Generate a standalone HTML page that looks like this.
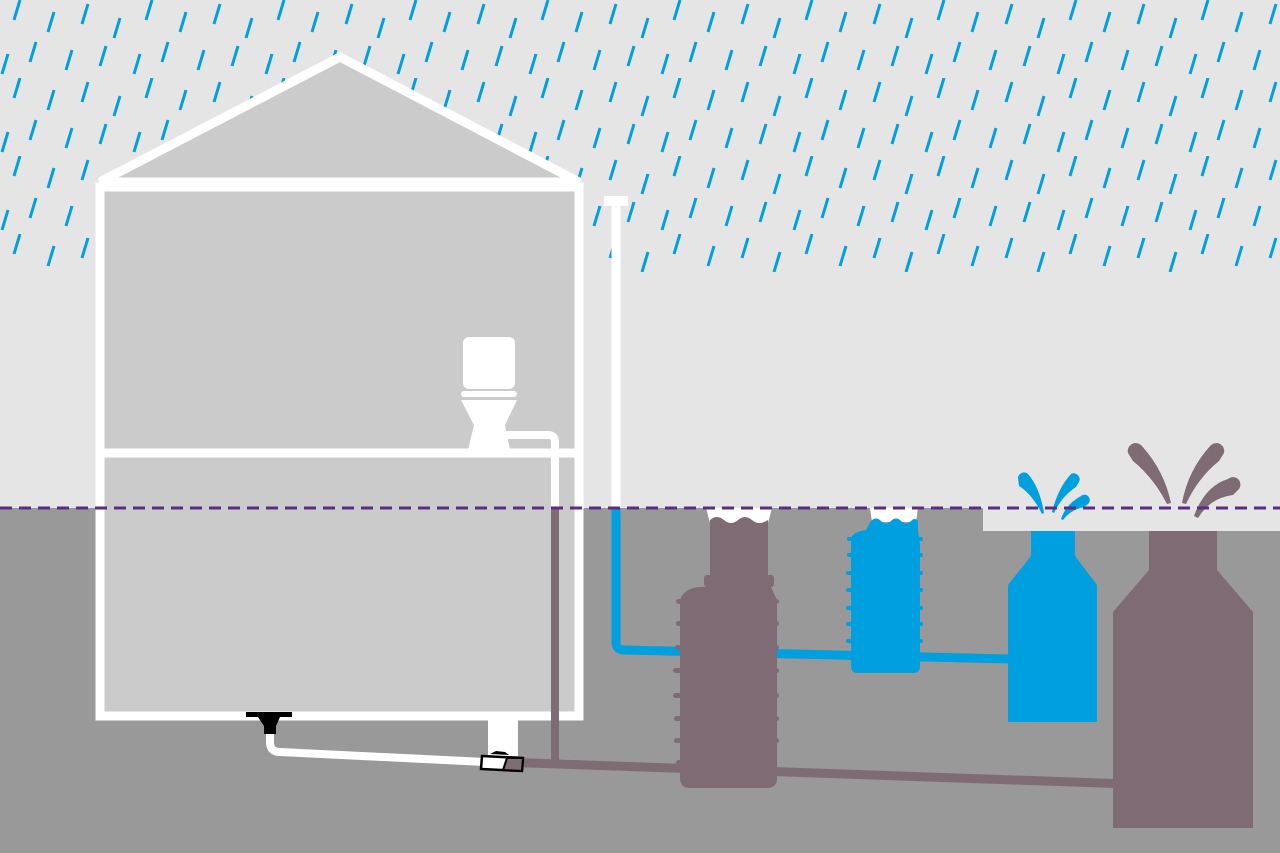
<!DOCTYPE html>
<html><head><meta charset="utf-8"><style>html,body{margin:0;padding:0;background:#e5e5e5}svg{display:block}</style></head>
<body>
<svg width="1280" height="853" viewBox="0 0 1280 853" xmlns="http://www.w3.org/2000/svg">
<defs>
<pattern id="rain" x="0" y="0" width="132" height="78" patternUnits="userSpaceOnUse">
<g stroke="#009fdf" stroke-width="3" stroke-linecap="butt">
<line x1="20" y1="0" x2="14" y2="20"/>
<line x1="54" y1="12" x2="48" y2="32"/>
<line x1="88" y1="4" x2="82" y2="24"/>
<line x1="120" y1="18" x2="114" y2="38"/>
<line x1="36" y1="42" x2="30" y2="62"/>
<line x1="72" y1="50" x2="66" y2="70"/>
<line x1="106" y1="46" x2="100" y2="66"/>
<line x1="8" y1="54" x2="2" y2="74"/>
</g>
</pattern>
</defs>
<rect width="1280" height="853" fill="#e5e5e5"/>
<rect x="0" y="0" width="1280" height="272" fill="url(#rain)"/>
<rect x="0" y="508" width="1280" height="345" fill="#999"/>
<rect x="983" y="508" width="297" height="23" fill="#e5e5e5"/>
<polygon points="100,182 340,57 579,182" fill="#cbcbcb" stroke="#fff" stroke-width="9" stroke-linejoin="miter"/>
<rect x="100" y="187" width="479" height="529" fill="#cbcbcb" stroke="#fff" stroke-width="9"/>
<line x1="100" y1="453" x2="579" y2="453" stroke="#fff" stroke-width="9"/>
<rect x="463" y="337" width="52" height="52" rx="6" fill="#fff"/>
<rect x="461" y="391" width="56" height="6" rx="3" fill="#fff"/>
<polygon points="461,400 517,400 505,425 510,450 468,450 474,425" fill="#fff"/>
<path d="M505 435 H548 Q555 435 555 442 V508" fill="none" stroke="#fff" stroke-width="8"/>
<path d="M555 508 V762" stroke="#7f6b73" stroke-width="8" fill="none"/>
<polygon points="515,758 1115,779 1115,788 515,767" fill="#7f6b73"/>
<rect x="604" y="196" width="24" height="10" fill="#fff"/>
<line x1="616" y1="200" x2="616" y2="508" stroke="#fff" stroke-width="9"/>
<path d="M616 508 V642 Q616 650 624 650 L1010 659" stroke="#009fdf" stroke-width="9" fill="none"/>
<rect x="246" y="712" width="46" height="5" fill="#000"/>
<path d="M258 717 H280 L276 726 V734 H264 V726 Z" fill="#000"/>
<path d="M270 734 V742 Q270 752 280 752 L485 762" stroke="#fff" stroke-width="8" fill="none"/>
<rect x="488" y="716" width="30" height="40" fill="#fff"/>
<polygon points="482,756 523,758 522,771 481,769" fill="#fff" stroke="#000" stroke-width="2.5"/>
<polygon points="507,758 523,758 522,771 503,770" fill="#7f6b73" stroke="#000" stroke-width="2"/>
<polygon points="490,754 496,751 505,752 509,755" fill="#000"/>
<polygon points="706,508 772,508 768,523 710,523" fill="#fff"/>
<path d="M710 520 q7 -6 14 0 q7 6 14 0 q7 -6 14 0 q7 6 16 0 V580 H710 Z" fill="#7f6b73"/>
<rect x="704" y="575" width="70" height="12" rx="3" fill="#7f6b73"/>
<path d="M680 600 Q684 588 700 587 L770 585 L777 600 V778 Q777 788 767 788 H690 Q680 788 680 778 Z" fill="#7f6b73"/>
<g fill="#7f6b73">
<rect x="676" y="599" width="103" height="5" rx="2.5"/><rect x="676" y="621" width="103" height="5" rx="2.5"/>
<rect x="675" y="645" width="104" height="5" rx="2.5"/><rect x="673" y="668" width="106" height="5" rx="2.5"/>
<rect x="673" y="693" width="106" height="5" rx="2.5"/><rect x="674" y="716" width="105" height="5" rx="2.5"/>
<rect x="674" y="738" width="105" height="5" rx="2.5"/><rect x="676" y="760" width="100" height="5" rx="2.5"/>
</g>
<polygon points="870,508 918,508 916,522 872,522" fill="#fff"/>
<path d="M871 521 q5 -5 10 0 q5 5 10 0 q5 -5 10 0 q5 5 10 0 q4 -4 7 0 V530 L920 545 V666 Q920 673 913 673 H858 Q851 673 851 666 V540 Q851 532 866 530 Z" fill="#009fdf"/>
<g fill="#009fdf">
<rect x="847" y="537" width="76" height="4" rx="2"/><rect x="847" y="553" width="76" height="4" rx="2"/>
<rect x="846" y="571" width="77" height="4" rx="2"/><rect x="846" y="588" width="77" height="4" rx="2"/>
<rect x="846" y="606" width="77" height="4" rx="2"/><rect x="846" y="622" width="77" height="4" rx="2"/>
<rect x="846" y="639" width="77" height="4" rx="2"/>
</g>
<polygon points="1031,531 1075,531 1075,556 1097,585 1097,722 1008,722 1008,585 1031,556" fill="#009fdf"/>
<polygon points="1149,531 1217,531 1217,570 1253,612 1253,828 1113,828 1113,612 1149,570" fill="#7f6b73"/>
<!-- tapered splashes -->
<g fill="#009fdf">
<path d="M1018 478 A6 6 0 0 1 1028 474 Q1040 488 1044 513 L1042 514 Q1032 494 1019 486 Z"/>
<path d="M1079 482 A6 6 0 0 0 1071 474 Q1058 488 1052 512 L1054 513 Q1062 496 1076 487 Z"/>
<path d="M1088 504 A5 5 0 0 0 1081 496 Q1066 504 1061 519 L1063 520 Q1070 510 1084 507 Z"/>
</g>
<g fill="#7f6b73">
<path d="M1128 453 A8 8 0 0 1 1141 445 Q1164 470 1171 503 L1167 504 Q1154 478 1133 461 Z"/>
<path d="M1224 453 A8 8 0 0 0 1211 445 Q1188 470 1182 503 L1186 504 Q1198 478 1219 461 Z"/>
<path d="M1238 490 A7 7 0 0 0 1228 479 Q1205 486 1194 516 L1198 518 Q1210 498 1233 495 Z"/>
</g>
<line x1="0" y1="508" x2="1280" y2="508" stroke="#5a2d82" stroke-width="3" stroke-dasharray="12,7"/>
</svg>
</body></html>
